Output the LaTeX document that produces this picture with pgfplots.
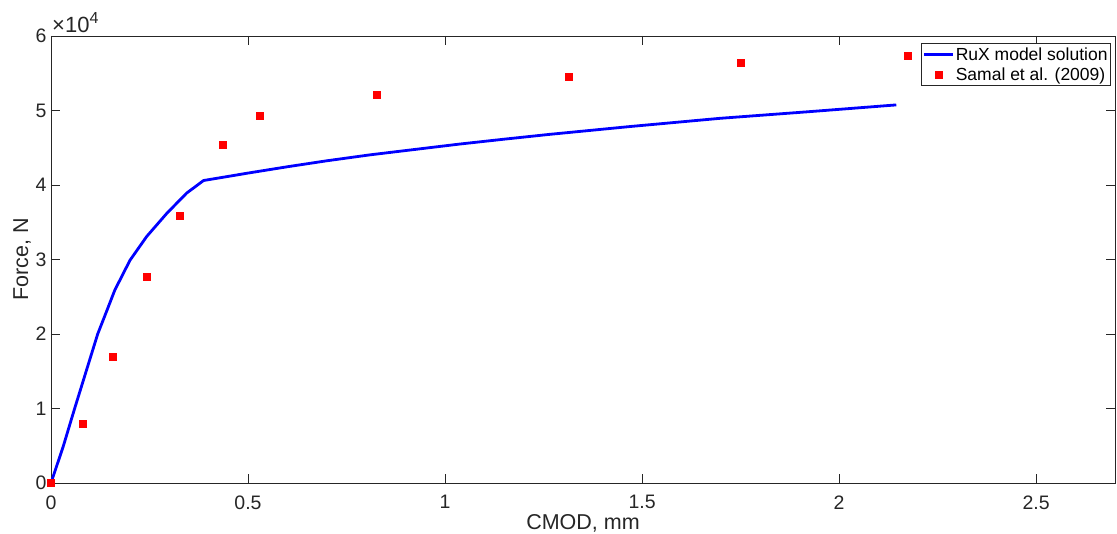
\documentclass[border=0pt]{standalone}
\usepackage{pgfplots}
\pgfplotsset{compat=1.18}
\usepackage{fontspec}
\setmainfont{Liberation Sans}

\definecolor{axgray}{rgb}{0.15,0.15,0.15}

% legend samples: a short line, and a single centred marker
\pgfplotsset{
  linelegend/.style={legend image code/.code={\draw[##1, line width=2.8pt] (0pt,0pt) -- (29pt,0pt);}},
  marklegend/.style={legend image code/.code={\draw[##1] plot coordinates {(14.5pt,0pt)};}},
}

\begin{document}
\begin{tikzpicture}
\begin{axis}[
  scale only axis,
  width=1064pt, height=447pt,
  xmin=0, xmax=2.7,
  ymin=0, ymax=60000,
  clip=false,
  xtick={0,0.5,1,1.5,2,2.5},
  xticklabels={0,0.5,1,1.5,2,2.5},
  ytick={0,10000,20000,30000,40000,50000,60000},
  yticklabels={0,1,2,3,4,5,6},
  scaled y ticks=false,
  axis line style={axgray, line width=0.9pt},
  every tick/.style={axgray, line width=0.9pt},
  major tick length=9pt,
  tick align=inside,
  ticklabel style={font=\fontsize{19.5}{23}\selectfont, text=axgray},
  xticklabel style={yshift=-9pt},
  yticklabel style={xshift=-1pt},
  xlabel={CMOD, mm},
  ylabel={Force, N},
  label style={font=\fontsize{21.5}{25}\selectfont, text=axgray},
  xlabel style={yshift=2pt},
  ylabel style={yshift=-2pt},
  legend style={
    at={(rel axis cs:1,1)}, xshift=-4pt, yshift=-7pt, anchor=north east,
    draw=axgray, line width=0.9pt,
    font=\fontsize{17.5}{21}\selectfont,
    inner xsep=2pt, inner ysep=2pt,
    row sep=2pt,
    nodes={inner xsep=1pt, inner ysep=2pt, text=black},
  },
  legend cell align=left,
]

% model curve
\addplot[blue, line width=2.8pt, line join=round, linelegend]
  coordinates {
  (0,0) (0.031,4900) (0.060,10000) (0.1185,20000) (0.140,22900)
  (0.162,25900) (0.2005,29900) (0.243,33100) (0.294,36200) (0.344,38900)
  (0.387,40600) (0.5,41600) (0.6,42450) (0.7,43250) (0.81,44050)
  (0.92,44750) (1.038,45500) (1.15,46150) (1.266,46800) (1.47,47850)
  (1.698,48950) (1.926,49850) (2.145,50750)
};
\addlegendentry{RuX model solution}

% experimental points
\addplot[only marks, mark=square*, mark size=3.5pt, color=red,
  mark options={draw=red, fill=red, line width=0pt}, marklegend]
  coordinates {
  (0,0) (0.080,7880) (0.158,16950) (0.244,27700) (0.327,35800)
  (0.437,45400) (0.530,49300) (0.827,52100) (1.315,54500)
  (1.751,56400) (2.175,57300)
};
\addlegendentry{Samal et al. (2009)}

% common scale factor of the y tick labels
\node[anchor=south west, inner sep=0pt, text=axgray] at (rel axis cs:0,1) [shift={(1pt,3pt)}]
  {\fontsize{22}{26}\selectfont ×10\raisebox{9pt}{\fontsize{16}{18}\selectfont 4}};
\end{axis}
\pgfresetboundingbox
\path[use as bounding box] (current axis.south west) ++(-51pt,-51pt)
  rectangle ([shift={(2pt,36pt)}]current axis.north east);
\end{tikzpicture}
\end{document}
